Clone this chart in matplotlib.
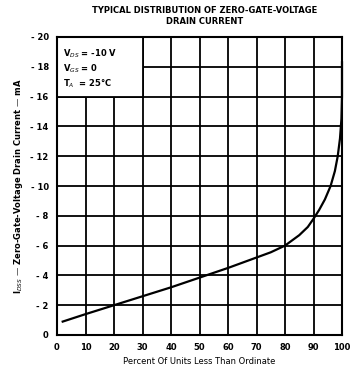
import matplotlib
matplotlib.use('Agg')
import matplotlib.pyplot as plt
from matplotlib.patches import Rectangle

# percent of units vs zero-gate-voltage drain current (mA)
pct = [2, 10, 20, 30, 40, 50, 60, 70, 75, 80, 85, 88, 90, 92, 94, 96,
       97.5, 98.5, 99.3, 99.8, 100, 100]
idss = [-0.9, -1.4, -2.0, -2.6, -3.2, -3.85, -4.5, -5.2, -5.55, -6.0, -6.7,
        -7.25, -7.8, -8.4, -9.1, -10.0, -11.0, -12.0, -13.2, -14.5, -16.0, -18.3]

xticks = [0, 10, 20, 30, 40, 50, 60, 70, 80, 90, 100]
yticks = [0, -2, -4, -6, -8, -10, -12, -14, -16, -18, -20]
ylabels = ['0'] + ['- %d' % abs(v) for v in yticks[1:]]

fig = plt.figure(figsize=(3.52, 3.69), dpi=100)
ax = fig.add_axes([57 / 352, 1 - 335 / 369, 285 / 352, 298 / 369])

ax.set_xlim(0, 100)
ax.set_ylim(0, -20)
ax.set_xticks(xticks)
ax.set_yticks(yticks)
ax.set_yticklabels(ylabels)
ax.tick_params(length=0, labelsize=6, pad=6)
for t in ax.get_xticklabels() + ax.get_yticklabels():
    t.set_fontweight('bold')
ax.grid(True, color='black', linewidth=1.3)
for s in ax.spines.values():
    s.set_linewidth(1.5)

# legend box masking the grid in the top-left corner
ax.add_patch(Rectangle((0, -16), 30, -4, facecolor='white', edgecolor='black',
                       linewidth=1.3, zorder=2))
ax.text(2, -19.3, 'V$_{DS}$ = -10 V\nV$_{GS}$ = 0\nT$_A$  = 25°C', fontsize=6,
        fontweight='bold', va='top', ha='left', linespacing=1.3, zorder=3)

ax.plot(pct, idss, color='black', linewidth=1.6, zorder=4, clip_on=False)

ax.set_xlabel('Percent Of Units Less Than Ordinate', fontsize=6, labelpad=3)
ax.set_ylabel('I$_{DSS}$ — Zero-Gate-Voltage Drain Current — mA', fontsize=6,
              fontweight='bold', labelpad=4)

fig.text(0.58, 0.985, 'TYPICAL DISTRIBUTION OF ZERO-GATE-VOLTAGE\nDRAIN CURRENT',
         ha='center', va='top', fontsize=6, fontweight='bold', linespacing=1.4)

plt.savefig('out.png', dpi=100)
